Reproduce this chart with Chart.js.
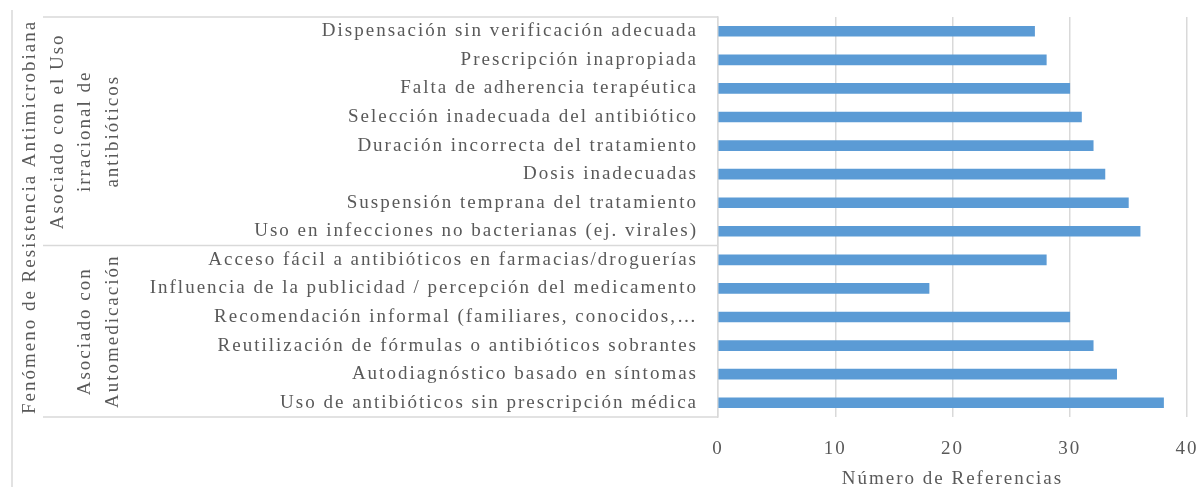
<!DOCTYPE html>
<html><head><meta charset="utf-8">
<script src="https://cdn.jsdelivr.net/npm/chart.js@4.4.0/dist/chart.umd.min.js"></script>
<style>html,body{margin:0;padding:0;background:#fff;}#wrap{width:1204px;height:487px;position:relative;}</style>
</head><body><div id="wrap"><canvas id="c"></canvas></div>
<script>
const categories = [
  "Dispensación sin verificación adecuada",
  "Prescripción inapropiada",
  "Falta de adherencia terapéutica",
  "Selección inadecuada del antibiótico",
  "Duración incorrecta del tratamiento",
  "Dosis inadecuadas",
  "Suspensión temprana del tratamiento",
  "Uso en infecciones no bacterianas (ej. virales)",
  "Acceso fácil a antibióticos en farmacias/droguerías",
  "Influencia de la publicidad / percepción del medicamento",
  "Recomendación informal (familiares, conocidos,…",
  "Reutilización de fórmulas o antibióticos sobrantes",
  "Autodiagnóstico basado en síntomas",
  "Uso de antibióticos sin prescripción médica"
];
const values = [27, 28, 30, 31, 32, 33, 35, 36, 28, 18, 30, 32, 34, 38];
const groupLabels = [["Asociado con el Uso", "irracional de", "antibióticos"], ["Asociado con", "Automedicación"]];
const groupStart = [0, 8];
const groupEnd = [7, 13];
const outerTitle = "Fenómeno de Resistencia Antimicrobiana";
const xTickValues = [0, 10, 20, 30, 40];
const xTitle = "Número de Referencias";

const FONT = "'Liberation Serif', 'Times New Roman', serif";
const FS = 19;
const SPACING = '2px';
const TXT = '#595959';
const LINE = '#d9d9d9';

const decor = {
  id: 'decor',
  beforeUpdate(chart) { chart.ctx.letterSpacing = SPACING; },
  beforeDraw(chart) {
    const ctx = chart.ctx;
    ctx.letterSpacing = SPACING;
    ctx.save(); ctx.fillStyle = '#fff'; ctx.fillRect(0, 0, chart.width, chart.height); ctx.restore();
  },
  afterDraw(chart) {
    const ctx = chart.ctx, ys = chart.scales.y, area = chart.chartArea;
    const half = (ys.getPixelForValue(1) - ys.getPixelForValue(0)) / 2;
    ctx.save();
    ctx.strokeStyle = LINE; ctx.lineWidth = 1.5;
    ctx.beginPath(); ctx.moveTo(12, 10); ctx.lineTo(12, chart.height); ctx.stroke();
    const seps = new Set();
    groupStart.forEach((s, i) => { seps.add(ys.getPixelForValue(s) - half); seps.add(ys.getPixelForValue(groupEnd[i]) + half); });
    seps.forEach(yy => { ctx.beginPath(); ctx.moveTo(43, yy); ctx.lineTo(area.left, yy); ctx.stroke(); });
    ctx.fillStyle = TXT;
    ctx.font = FS + 'px ' + FONT;
    ctx.textAlign = 'center'; ctx.textBaseline = 'middle';
    ctx.save(); ctx.translate(30, (area.top + area.bottom) / 2); ctx.rotate(-Math.PI / 2);
    ctx.fillText(outerTitle, 0, 0); ctx.restore();
    groupLabels.forEach((lines, i) => {
      const cy = (ys.getPixelForValue(groupStart[i]) + ys.getPixelForValue(groupEnd[i])) / 2;
      const n = lines.length;
      lines.forEach((t, j) => {
        const x = 113 - (n - 1 - j) * 27.5;
        ctx.save(); ctx.translate(x, cy); ctx.rotate(-Math.PI / 2);
        ctx.fillText(t, 0, 0); ctx.restore();
      });
    });
    ctx.restore();
  }
};

new Chart(document.getElementById('c'), {
  type: 'bar',
  data: { labels: categories, datasets: [{ data: values, backgroundColor: '#5b9bd5', barThickness: 10 }] },
  options: {
    indexAxis: 'y', responsive: true, maintainAspectRatio: false, animation: false, devicePixelRatio: 1,
    layout: { padding: { left: 0, top: 17, right: 17, bottom: 0 } },
    plugins: { legend: { display: false }, tooltip: { enabled: false } },
    scales: {
      x: {
        min: 0, max: 40,
        afterBuildTicks(s) { s.ticks = xTickValues.map(v => ({ value: v })); },
        afterFit(s) { s.height = 70; s.paddingLeft = 0; s.paddingRight = 0; },
        grid: { color: LINE, lineWidth: 1.5, drawTicks: false },
        border: { display: false },
        ticks: { color: TXT, font: { family: FONT, size: FS }, padding: 21 },
        title: { display: true, text: xTitle, color: TXT, font: { family: FONT, size: FS, lineHeight: 1 }, padding: { top: 0, bottom: -2 } }
      },
      y: {
        afterFit(s) { s.width = 718; s.paddingTop = 0; s.paddingBottom = 0; },
        grid: { display: false, drawTicks: false },
        border: { display: true, color: LINE, width: 1.5 },
        ticks: { color: TXT, font: { family: FONT, size: FS }, padding: 20, autoSkip: false }
      }
    }
  },
  plugins: [decor]
});
</script></body></html>
